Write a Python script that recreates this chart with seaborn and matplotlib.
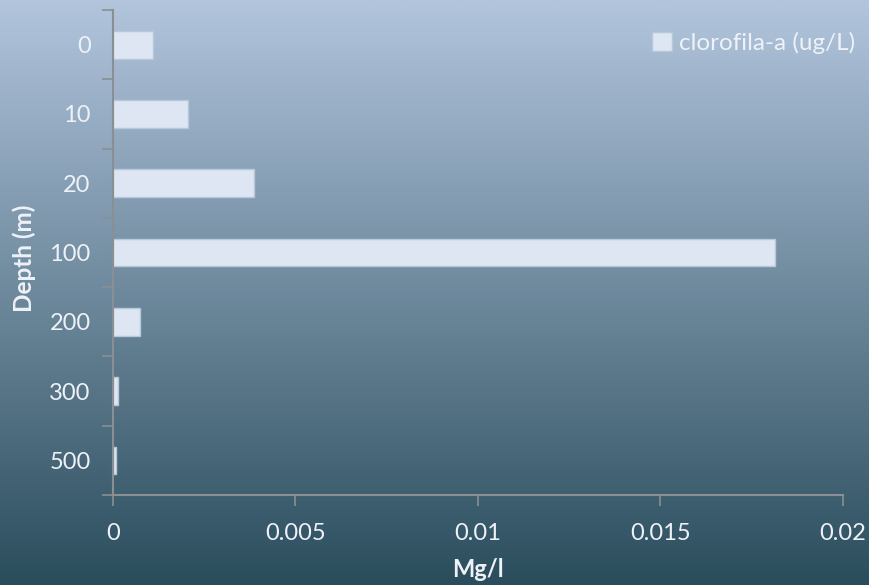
import numpy as np
import pandas as pd
import matplotlib
matplotlib.use("Agg")
import matplotlib.pyplot as plt
from matplotlib.colors import LinearSegmentedColormap
from matplotlib.ticker import FixedLocator
import seaborn as sns

depths = ["0", "10", "20", "100", "200", "300", "500"]
chlorophyll = [0.0011, 0.00205, 0.00386, 0.01814, 0.00074, 0.00014, 0.00007]
x_ticks = [0, 0.005, 0.01, 0.015, 0.02]
x_tick_labels = ["0", "0.005", "0.01", "0.015", "0.02"]
series_name = "clorofila-a (ug/L)"

df = pd.DataFrame({"depth": depths, "value": chlorophyll})

sns.set_theme(style="white")
plt.rcParams["font.family"] = ["Lato", "DejaVu Sans"]

text_color = "#eef2f8"
axis_color = "#8a8f94"
bar_color = "#dde6f2"

fig = plt.figure(figsize=(8.69, 5.85), dpi=100)

# vertical gradient backdrop
bg = fig.add_axes([0, 0, 1, 1], zorder=-10)
grad = LinearSegmentedColormap.from_list("bg", ["#b2c5dd", "#2a4d5c"])
bg.imshow(np.linspace(0, 1, 256).reshape(-1, 1), aspect="auto", cmap=grad,
          extent=[0, 1, 0, 1], origin="upper")
bg.set_axis_off()

ax = fig.add_axes([0.130, 0.1538, 0.840, 0.829])
ax.patch.set_alpha(0)

sns.barplot(data=df, x="value", y="depth", order=depths, orient="h",
            color=bar_color, width=0.4, edgecolor="#b8c8db", linewidth=1,
            saturation=1, ax=ax, label=series_name)

ax.set_xlim(0, 0.02)
ax.set_ylim(len(depths) - 0.5, -0.5)
ax.set_xticks(x_ticks)
ax.set_xticklabels(x_tick_labels)

# tick marks between categories, labels centred on bars
ax.yaxis.set_minor_locator(FixedLocator(np.arange(-0.5, len(depths), 1.0)))
ax.tick_params(axis="y", which="major", length=0, pad=16,
               labelsize=17, labelcolor=text_color)
ax.tick_params(axis="y", which="minor", length=8, width=1.2, color=axis_color,
               left=True)
ax.tick_params(axis="x", which="major", length=8, width=1.2, color=axis_color,
               bottom=True, pad=12, labelsize=17, labelcolor=text_color)

for side in ["top", "right"]:
    ax.spines[side].set_visible(False)
for side in ["left", "bottom"]:
    ax.spines[side].set_color(axis_color)
    ax.spines[side].set_linewidth(1.5)

ax.set_xlabel("Mg/l", fontsize=17, fontweight="bold", color=text_color, labelpad=10)
ax.set_ylabel("Depth (m)", fontsize=17.5, fontweight="bold", color=text_color)
ax.yaxis.set_label_coords(-0.105, 0.488)
ax.grid(False)

leg = ax.legend(loc="upper right", bbox_to_anchor=(1.03, 0.975), frameon=False,
                fontsize=17.5, handlelength=0.8, handleheight=0.8,
                handletextpad=0.3, borderaxespad=0)
for t in leg.get_texts():
    t.set_color(text_color)

fig.savefig("out.png", dpi=100)
